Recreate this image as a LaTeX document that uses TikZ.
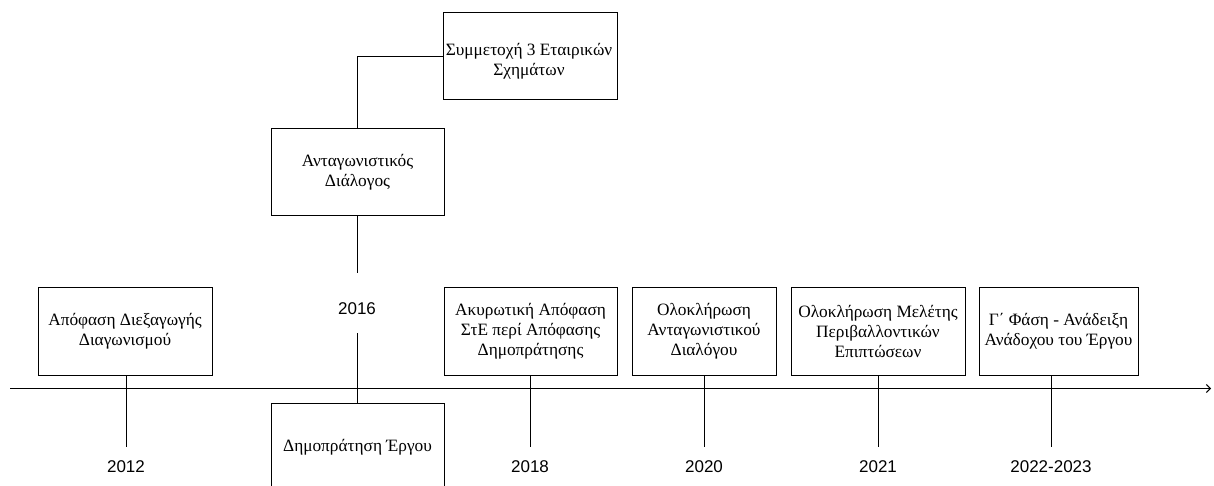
\documentclass[tikz,border=0pt]{standalone}
\usepackage{fontspec}
\setmainfont{Liberation Serif}
\newfontfamily\arialf{Liberation Sans}
\usetikzlibrary{arrows.meta}
\begin{document}
\begin{tikzpicture}[x=1pt,y=-1pt,
  box/.style={draw=black,line width=1pt,rectangle,align=center,inner sep=0pt,
    font=\fontsize{17.3}{20}\selectfont},
  yr/.style={font=\arialf\fontsize{17}{19}\selectfont,inner sep=0pt},
  conn/.style={draw=black,line width=1pt}]
\useasboundingbox (0,0) rectangle (1214,486);
% axis
\coordinate (axL) at (10,388.5);
\coordinate (axR) at (1211,388.5);
\draw[conn,-{Straight Barb[length=4pt,width=8pt]}] (axL) -- (axR);
% boxes
\node[box,minimum width=174,minimum height=88] (b12) at (125,331) {Απόφαση Διεξαγωγής\\Διαγωνισμού};
\node[box,minimum width=173,minimum height=87] (bant) at (357.5,172.5) {Ανταγωνιστικός\\Διάλογος};
\node[box,minimum width=174,minimum height=87,text depth=0pt] (bsym) at (530,56.5) {};
\node[font=\fontsize{17.3}{20}\selectfont,align=center,inner sep=0pt] (tsym) at (529,61) {Συμμετοχή 3 Εταιρικών\\Σχημάτων};
\node[box,minimum width=173,minimum height=88] (bdim) at (357.5,447) {Δημοπράτηση Έργου};
\node[box,minimum width=173,minimum height=88] (b18) at (530.5,331) {Ακυρωτική Απόφαση\\ΣτΕ περί Απόφασης\\Δημοπράτησης};
\node[box,minimum width=144,minimum height=88] (b20) at (704,331) {Ολοκλήρωση\\Ανταγωνιστικού\\Διαλόγου};
\node[box,minimum width=174,minimum height=88] (b21) at (878,331) {Ολοκλήρωση Μελέτης\\Περιβαλλοντικών\\Επιπτώσεων};
\node[box,minimum width=159,minimum height=88] (b22) at (1058.5,331) {Γ΄ Φάση - Ανάδειξη\\Ανάδοχου του Έργου};
% year labels
\node[yr] (y12) at (126,467) {2012};
\node[yr] (y16) at (357,309) {2016};
\node[yr] (y18) at (530,467) {2018};
\node[yr] (y20) at (704,467) {2020};
\node[yr] (y21) at (878,467) {2021};
\node[yr] (y22) at (1051,467) {2022-2023};
% connector ends
\coordinate (e12) at (126,447);
\coordinate (e18) at (530,447);
\coordinate (e20) at (704,447);
\coordinate (e21) at (878,447);
\coordinate (e22) at (1051,447);
\coordinate (s16a) at (357,273);
\coordinate (s16b) at (357,333);
\coordinate (corner) at (357,57);
% connectors
\draw[conn] (b12.south -| e12) -- (e12);
\draw[conn] (b18.south -| e18) -- (e18);
\draw[conn] (b20.south -| e20) -- (e20);
\draw[conn] (b21.south -| e21) -- (e21);
\draw[conn] (b22.south -| e22) -- (e22);
\draw[conn] (bant.south -| s16a) -- (s16a);
\draw[conn] (s16b) -- (bdim.north -| s16b);
\draw[conn] (bsym.west |- corner) -- (corner) -- (bant.north -| corner);
\end{tikzpicture}
\end{document}
